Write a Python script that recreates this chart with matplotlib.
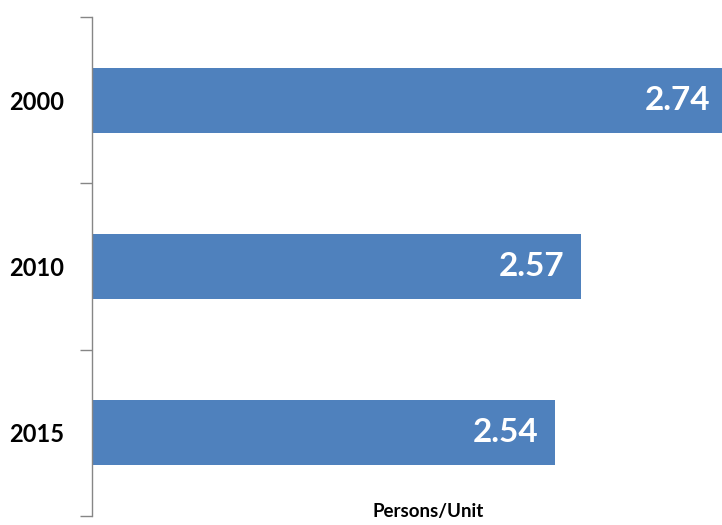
import matplotlib.pyplot as plt

years = ["2000", "2010", "2015"]
persons_per_unit = [2.74, 2.57, 2.54]

plt.rcParams['font.family'] = ['Lato', 'DejaVu Sans']

fig = plt.figure(figsize=(7.22, 5.25), dpi=100)
ax = fig.add_axes([92 / 722, 9 / 525, 630 / 722, 499 / 525])

pos = list(range(len(years)))
bars = ax.barh(pos, persons_per_unit, height=0.39, left=0, color="#4F81BD")
ax.set_xlim(2.0, 2.0 + 630 / 858)
ax.set_ylim(2.5, -0.5)

for p, v in zip(pos, persons_per_unit):
    ax.annotate(f"{v:.2f}", xy=(v, p), xytext=(-12, 0), textcoords="offset points",
                ha="right", va="center", color="white", fontsize=24,
                fontweight="bold", annotation_clip=False)

for s in ["top", "right", "bottom"]:
    ax.spines[s].set_visible(False)
ax.spines["left"].set_color("#868686")
ax.spines["left"].set_linewidth(1.0)

ax.set_xticks([])
ax.set_yticks(pos)
ax.set_yticklabels(years, fontsize=17, fontweight="bold")
ax.tick_params(axis="y", length=0, pad=20)
ax.set_yticks([-0.5, 0.5, 1.5, 2.5], minor=True)
ax.tick_params(axis="y", which="minor", length=9, color="#868686", width=1.0)

fig.text(428 / 722, 1 - 511 / 525, "Persons/Unit", ha="center", va="center",
         fontsize=13.5, fontweight="bold")

fig.savefig("out.png", dpi=100)
